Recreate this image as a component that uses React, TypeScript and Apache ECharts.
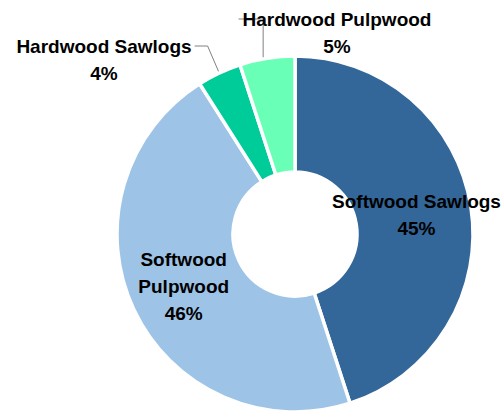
import React, { useEffect, useRef } from "react";
import * as echarts from "echarts";

const categories = ["Softwood Sawlogs", "Softwood Pulpwood", "Hardwood Sawlogs", "Hardwood Pulpwood"];
const labelNames = ["Softwood Sawlogs", "Softwood\nPulpwood", "Hardwood Sawlogs", "Hardwood Pulpwood"];
const values = [45, 46, 4, 5];
const colors = ["#336699", "#9DC3E6", "#00CC99", "#6AFFB6"];

const FONT = "'Liberation Sans', Arial, sans-serif";

export default function App() {
  const ref = useRef<HTMLDivElement>(null);
  useEffect(() => {
    if (!ref.current) return;
    const chart = echarts.init(ref.current, null, { renderer: "svg" });
    const outsideAnchor: Record<number, [number, number]> = { 2: [104, 60], 3: [337, 33] };
    chart.setOption({
      animation: false,
      backgroundColor: "#ffffff",
      series: [
        {
          type: "pie",
          center: [295, 234],
          radius: [62, 178],
          startAngle: 90,
          clockwise: true,
          avoidLabelOverlap: false,
          itemStyle: { borderColor: "#ffffff", borderWidth: 3.5 },
          label: {
            show: true,
            fontFamily: FONT,
            fontWeight: "bold",
            fontSize: 19,
            lineHeight: 27,
            color: "#000000",
            align: "center",
            formatter: (p: any) => `${labelNames[p.dataIndex]}\n${p.value}%`,
          },
          labelLine: { show: true, lineStyle: { color: "#808080", width: 1 }, length: 25, length2: 13 },
          labelLayout: (params: any) => {
            const i = params.dataIndex;
            const anchor = outsideAnchor[i];
            if (!anchor) return {};
            const w = params.labelRect.width;
            const h = params.labelRect.height;
            const left = anchor[0] - w / 2;
            const right = anchor[0] + w / 2;
            const top = anchor[1] - h / 2;
            const lineY = top + 13;
            const pts = params.labelLinePoints;
            const p0 = pts ? pts[0] : [anchor[0], anchor[1]];
            let points;
            if (i === 2) {
              points = [p0, [right + 16, lineY], [right + 3, lineY]];
            } else {
              points = [[p0[0] - 4, p0[1]], [p0[0] - 4, lineY], [left - 4, lineY]];
            }
            return {
              x: anchor[0],
              y: anchor[1],
              align: "center",
              verticalAlign: "middle",
              labelLinePoints: points,
            };
          },
          data: categories.map((name, i) => ({
            name,
            value: values[i],
            itemStyle: { color: colors[i] },
            label: { position: i >= 2 ? "outside" : "inside" },
            labelLine: { show: i >= 2 },
          })),
        },
      ],
    });
    return () => chart.dispose();
  }, []);
  return (
    <div
      ref={ref}
      style={{ position: "fixed", left: 0, top: 0, width: 503, height: 411 }}
    />
  );
}
